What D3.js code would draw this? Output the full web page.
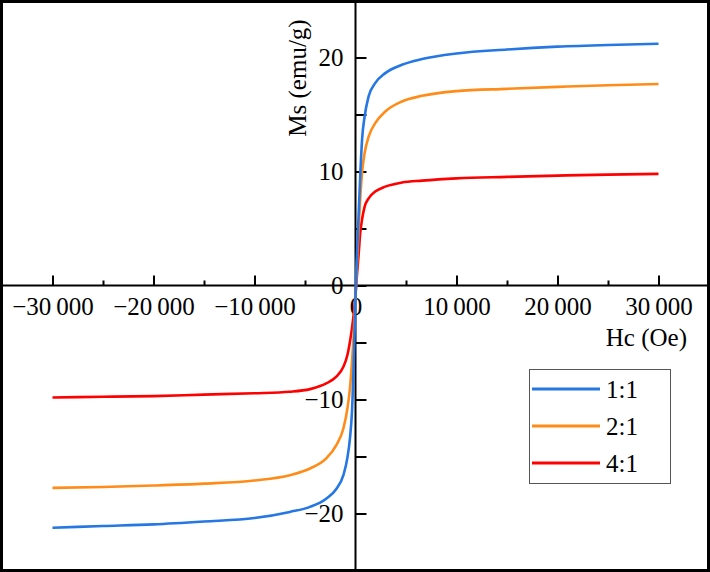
<!DOCTYPE html>
<html>
<head>
<meta charset="utf-8">
<script src="https://cdn.jsdelivr.net/npm/d3@7"></script>
<style>
  body { margin: 0; background: #fff; }
  text { font-family: "Liberation Serif", "Times New Roman", serif; fill: #000; }
</style>
</head>
<body>
<svg id="chart" width="710" height="572"></svg>
<script>
// applied field (Oe), shared by all three curves
var fields = [-30000, -25000, -20000, -15000, -10000, -6500, -4500, -2900, -1900, -1200, -800, -550, -350, -150,
    0, 150, 300, 480, 650, 900, 1300, 1950, 2950, 4600, 6600, 10000, 15000, 20000, 25000, 30000];

// magnetisation (emu/g) for each ratio
var ms11 = [-21.25, -21.1, -20.95, -20.7, -20.4, -19.86, -19.42, -18.7, -17.85, -16.64, -15.1, -13.4, -11.1, -6.0,
    -1.0, 2.8, 6.0, 9.85, 12.8, 14.8, 16.6, 17.75, 18.63, 19.36, 19.86, 20.35, 20.7, 20.95, 21.1, 21.2];
var ms21 = [-17.75, -17.67, -17.55, -17.38, -17.1, -16.64, -16.05, -15.17, -14.0, -12.54, -10.78, -9.03, -6.7, -3.8,
    -1.0, 2.0, 4.8, 7.8, 9.9, 11.6, 13.06, 14.24, 15.26, 16.14, 16.64, 17.05, 17.25, 17.42, 17.57, 17.67];
var ms41 = [-9.82, -9.76, -9.7, -9.57, -9.45, -9.32, -9.09, -8.59, -8.0, -7.13, -6.1, -4.93, -3.76, -2.3,
    -0.8, 1.0, 2.6, 4.7, 5.8, 6.9, 7.65, 8.24, 8.67, 9.03, 9.2, 9.4, 9.53, 9.64, 9.73, 9.79];

var seriesNames = ["1:1", "2:1", "4:1"];
var seriesColors = ["#2577e3", "#ff8c19", "#fe0000"];

var xMajorTicks = [-30000, -20000, -10000, 0, 10000, 20000, 30000];
var xMinorTicks = [-25000, -15000, -5000, 5000, 15000, 25000];
var yLabelTicks = [-20, -10, 0, 10, 20];
var yAllTicks = [-25, -20, -15, -10, -5, 0, 5, 10, 15, 20, 25];

var svg = d3.select("#chart"),
    width = 710,
    height = 572;

var x = d3.scaleLinear().domain([-35000, 35000]).range([2, 709]);
var y = d3.scaleLinear().domain([-25, 25]).range([570.5, 0.5]);

var fmt = d3.formatLocale({
    decimal: ".", thousands: "\u2009", grouping: [3], currency: ["", ""], minus: "\u2212"
}).format(",d");

var series = [ms11, ms21, ms41].map(function (vals, i) {
    return {
        name: seriesNames[i],
        color: seriesColors[i],
        points: fields.map(function (h, j) { return [h, vals[j]]; })
    };
});

// x axis through the origin, ticks pointing up
var gx = svg.append("g").attr("transform", "translate(0," + y(0) + ")");
gx.call(d3.axisBottom(x).tickValues(xMajorTicks).tickSize(-10).tickPadding(12).tickFormat(fmt));
gx.append("g").call(d3.axisBottom(x).tickValues(xMinorTicks).tickSize(-5).tickFormat(""));
gx.selectAll(".domain").remove();
gx.selectAll(".tick line").attr("stroke", "#000").attr("stroke-width", 2);
gx.selectAll(".tick text").style("font-size", "25px").attr("fill", "#000");
gx.append("line")
    .attr("x1", 0).attr("x2", width)
    .attr("stroke", "#000").attr("stroke-width", 2);

// y axis through the origin, ticks pointing right, labels on the left
var gy = svg.append("g").attr("transform", "translate(" + x(0) + ",0)");
gy.call(d3.axisRight(y).tickValues(yAllTicks).tickSize(11).tickFormat(""));
gy.append("g").call(d3.axisLeft(y).tickValues(yLabelTicks).tickSize(0).tickPadding(12).tickFormat(fmt));
gy.selectAll(".domain").remove();
gy.selectAll(".tick line").attr("stroke", "#000").attr("stroke-width", 2);
gy.selectAll(".tick text").style("font-size", "25px").attr("fill", "#000");
gy.append("line")
    .attr("y1", 0).attr("y2", height)
    .attr("stroke", "#000").attr("stroke-width", 2);

// axis titles
svg.append("text")
    .attr("transform", "translate(306,78) rotate(-90)")
    .attr("text-anchor", "middle")
    .style("font-size", "25px")
    .text("Ms (emu/g)");

svg.append("text")
    .attr("x", 687).attr("y", 346)
    .attr("text-anchor", "end")
    .style("font-size", "25px")
    .text("Hc (Oe)");

// curves, red first so blue sits on top
var line = d3.line()
    .x(function (d) { return x(d[0]); })
    .y(function (d) { return y(d[1]); })
    .curve(d3.curveMonotoneX);

svg.selectAll(".curve")
    .data(series.slice().reverse())
    .enter()
    .append("path")
    .attr("class", "curve")
    .attr("fill", "none")
    .attr("stroke", function (d) { return d.color; })
    .attr("stroke-width", 2.6)
    .attr("d", function (d) { return line(d.points); });

// legend
var legend = svg.append("g").attr("transform", "translate(529,369)");
legend.append("rect")
    .attr("x", 0.5).attr("y", 0.5)
    .attr("width", 141).attr("height", 114)
    .attr("fill", "#fff")
    .attr("stroke", "#555").attr("stroke-width", 1);

var items = legend.selectAll(".item")
    .data(series)
    .enter()
    .append("g")
    .attr("class", "item")
    .attr("transform", function (d, i) { return "translate(0," + (20 + i * 37) + ")"; });

items.append("line")
    .attr("x1", 3).attr("x2", 71)
    .attr("stroke", function (d) { return d.color; })
    .attr("stroke-width", 3);

items.append("text")
    .attr("x", 77).attr("y", 9)
    .style("font-size", "25px")
    .text(function (d) { return d.name; });

// outer frame
svg.append("rect")
    .attr("x", 1.5).attr("y", 1.5)
    .attr("width", width - 3).attr("height", height - 3)
    .attr("fill", "none")
    .attr("stroke", "#000").attr("stroke-width", 3);
</script>
</body>
</html>
